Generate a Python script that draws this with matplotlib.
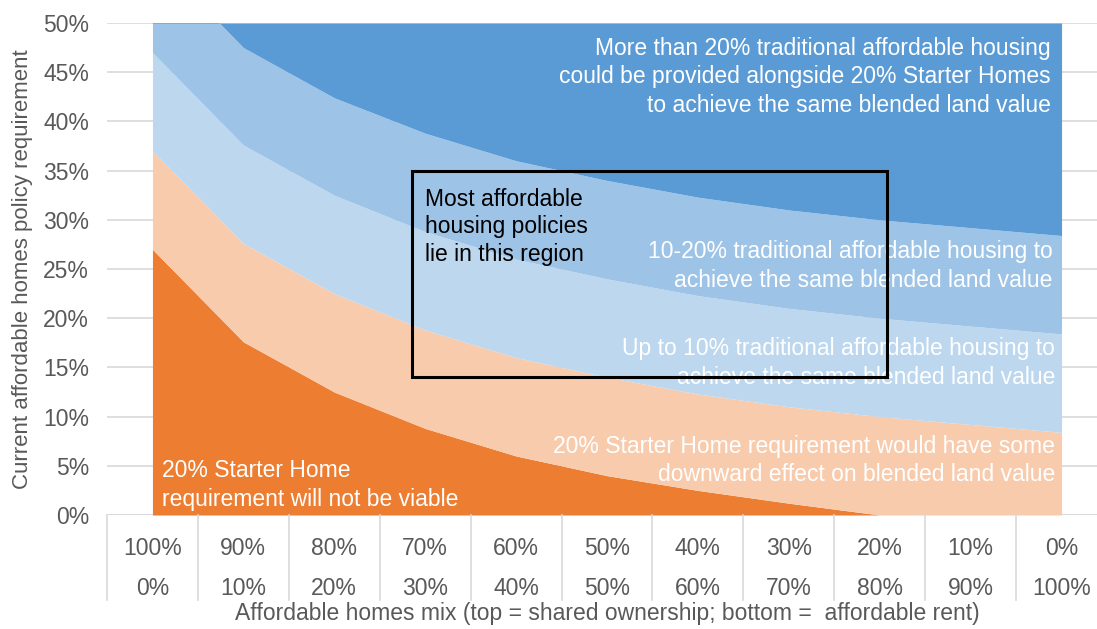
from matplotlib import pyplot as plt
from matplotlib.patches import Rectangle
import numpy as np

plt.rcParams['font.family'] = ['Liberation Sans', 'DejaVu Sans']

# affordable homes mix: top = shared ownership, bottom = affordable rent
shared = ['100%', '90%', '80%', '70%', '60%', '50%', '40%', '30%', '20%', '10%', '0%']
rent = ['0%', '10%', '20%', '30%', '40%', '50%', '60%', '70%', '80%', '90%', '100%']

# upper edge of each band (% policy requirement)
not_viable = [27, 17.6, 12.5, 8.8, 6, 4, 2.5, 1.2, 0, 0, 0]
some_effect = [37, 27.6, 22.5, 18.8, 16, 14, 12.3, 11, 10, 9.2, 8.4]
up_to_10 = [47, 37.6, 32.5, 28.8, 26, 24, 22.3, 21, 20, 19.2, 18.4]
ten_to_20 = [57, 47.5, 42.4, 38.8, 36, 34, 32.3, 31, 30, 29.2, 28.4]
y_top = 50

colors = ['#ED7D31', '#F8CBAD', '#BDD7EE', '#9DC3E6', '#5B9BD5']
grey = '#595959'

x = np.arange(len(shared))
fig = plt.figure(figsize=(10.97, 6.29), dpi=100)
# axes runs a little past the right edge, like the original
ax = fig.add_axes([107 / 1097, 114 / 629, 1000 / 1097, 492 / 629])

bounds = [np.zeros(len(x)), not_viable, some_effect, up_to_10, ten_to_20,
          np.full(len(x), y_top)]
for i in range(5):
    ax.fill_between(x, bounds[i], bounds[i + 1], color=colors[i], lw=0, zorder=2)

ax.set_xlim(-0.5, 10.5)
ax.set_ylim(0, 50)
ax.set_yticks(np.arange(0, 51, 5))
ax.set_yticklabels([f'{v}%' for v in range(0, 51, 5)])
ax.grid(axis='y', color='#D9D9D9', lw=1.2, zorder=0)
ax.tick_params(axis='y', length=0, pad=13, labelsize=16.5, labelcolor=grey)
for s in ax.spines.values():
    s.set_visible(False)
ax.axhline(0, color='#D9D9D9', lw=1.2, zorder=1)

ax.set_xticks(x)
ax.set_xticklabels([f'{a}\n{b}' for a, b in zip(shared, rent)], linespacing=1.95)
ax.tick_params(axis='x', length=0, pad=16, labelsize=16.5, labelcolor=grey)

# category separators under the axis
sep = ax.get_xaxis_transform()
for b in np.arange(-0.5, 11, 1):
    ax.plot([b, b], [0, -0.173], transform=sep, color='#D9D9D9', lw=1.2, clip_on=False)

ax.set_xlabel('Affordable homes mix (top = shared ownership; bottom =  affordable rent)',
              fontsize=16.5, color=grey)
ax.xaxis.set_label_coords(0.5, -0.176)
ax.set_ylabel('Current affordable homes policy requirement', fontsize=16, color=grey)
ax.yaxis.set_label_coords(-0.074, 0.5)

kw = dict(color='white', fontsize=16.5, ha='right', va='center', linespacing=1.3, zorder=4)
ax.text(9.88, 44.55, 'More than 20% traditional affordable housing\n'
        'could be provided alongside 20% Starter Homes\n'
        'to achieve the same blended land value', **kw)
ax.text(9.9, 25.3, '10-20% traditional affordable housing to\n'
        'achieve the same blended land value', **kw)
ax.text(9.93, 15.45, 'Up to 10% traditional affordable housing to\n'
        'achieve the same blended land value', **kw)
ax.text(9.93, 5.55, '20% Starter Home requirement would have some\n'
        'downward effect on blended land value', **kw)
kw['ha'] = 'left'
ax.text(0.1, 3.05, '20% Starter Home\nrequirement will not be viable', **kw)

ax.text(3.0, 29.3, 'Most affordable\nhousing policies\nlie in this region',
        color='black', fontsize=16.5, ha='left', va='center', linespacing=1.25, zorder=5)
ax.add_patch(Rectangle((2.85, 14), 5.23, 21, fill=False, ec='black', lw=2.2, zorder=6))

fig.savefig('out.png', dpi=100)
